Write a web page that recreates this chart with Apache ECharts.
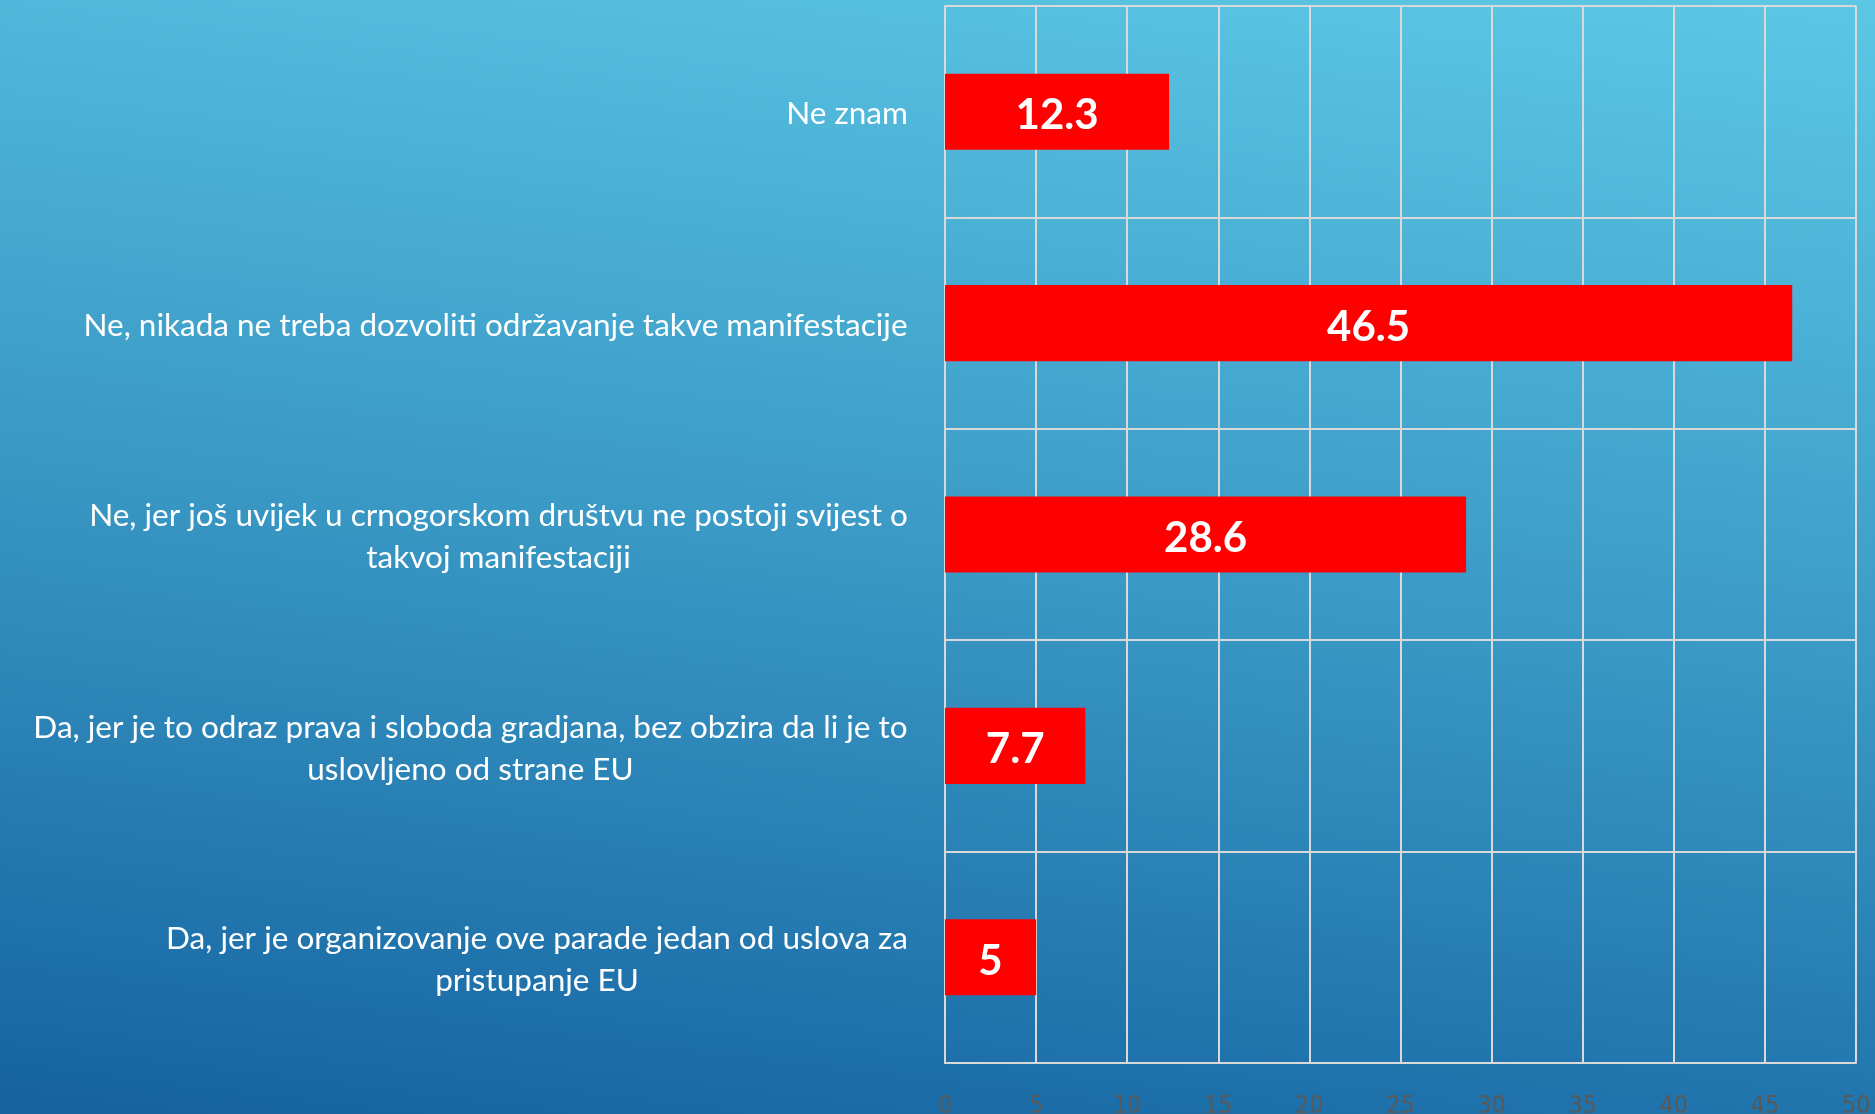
<!DOCTYPE html>
<html><head><meta charset="utf-8">
<script src="https://cdn.jsdelivr.net/npm/echarts@6/dist/echarts.min.js"></script>
<style>
html,body{margin:0;padding:0;width:1875px;height:1114px;overflow:hidden}
#c{width:1875px;height:1114px;background:linear-gradient(187deg,#5cc8e5 0%,#3a99c5 50%,#1462a0 100%)}
</style>
</head><body><div id="c"></div><script>
// Categories, top to bottom (line breaks as in the original)
const categories = [
  'Ne znam',
  'Ne, nikada ne treba dozvoliti održavanje takve manifestacije',
  'Ne, jer još uvijek u crnogorskom društvu ne postoji svijest o\ntakvoj manifestaciji',
  'Da, jer je to odraz prava i sloboda gradjana, bez obzira da li je to\nuslovljeno od strane EU',
  'Da, jer je organizovanje ove parade jedan od uslova za\npristupanje EU'
];
const values = [12.3, 46.5, 28.6, 7.7, 5];
const xMin = 0, xMax = 50, xStep = 5;

const labelFont = 'Lato';
const labelSize = 31.5;
const ctx = document.createElement('canvas').getContext('2d');
ctx.font = labelSize + 'px ' + labelFont;
const rich = {};
categories.forEach((c, i) => {
  const w = Math.max(...c.split('\n').map(l => ctx.measureText(l).width));
  rich['r' + i] = {
    width: Math.ceil(w) + 2, align: 'center', color: '#ffffff',
    fontFamily: labelFont, fontSize: labelSize, lineHeight: 42
  };
});

const chart = echarts.init(document.getElementById('c'), null, {renderer: 'canvas'});
const gridColor = '#d9d9d9';
chart.setOption({
  backgroundColor: 'transparent',
  animation: false,
  grid: {left: 945, right: 19, top: 6, bottom: 51, containLabel: false, outerBoundsMode: 'none'},
  xAxis: {
    type: 'value', min: xMin, max: xMax, interval: xStep,
    axisLine: {show: true, lineStyle: {color: gridColor, width: 2}},
    axisTick: {show: false},
    splitLine: {show: true, lineStyle: {color: gridColor, width: 2}},
    axisLabel: {color: '#595959', fontSize: 25, margin: 31,
      fontFamily: '"Liberation Sans Narrow","DejaVu Sans Condensed",sans-serif'}
  },
  yAxis: {
    type: 'category', inverse: true, data: categories,
    axisLine: {show: true, lineStyle: {color: gridColor, width: 2}},
    axisTick: {show: false},
    splitLine: {show: true, lineStyle: {color: gridColor, width: 2}},
    axisLabel: {
      margin: 36, interval: 0, padding: [5, 0, 0, 0],
      formatter: (v) => {
        const i = categories.indexOf(v);
        return v.split('\n').map(l => '{r' + i + '|' + l + '}').join('\n');
      },
      rich: rich
    }
  },
  series: [{
    type: 'bar', data: values, barWidth: '36%',
    itemStyle: {color: '#ff0000'},
    label: {show: true, position: 'inside', offset: [0, 4], color: '#ffffff', fontWeight: 'bold',
      fontSize: 42, fontFamily: 'Lato'}
  }]
});
</script></body></html>
